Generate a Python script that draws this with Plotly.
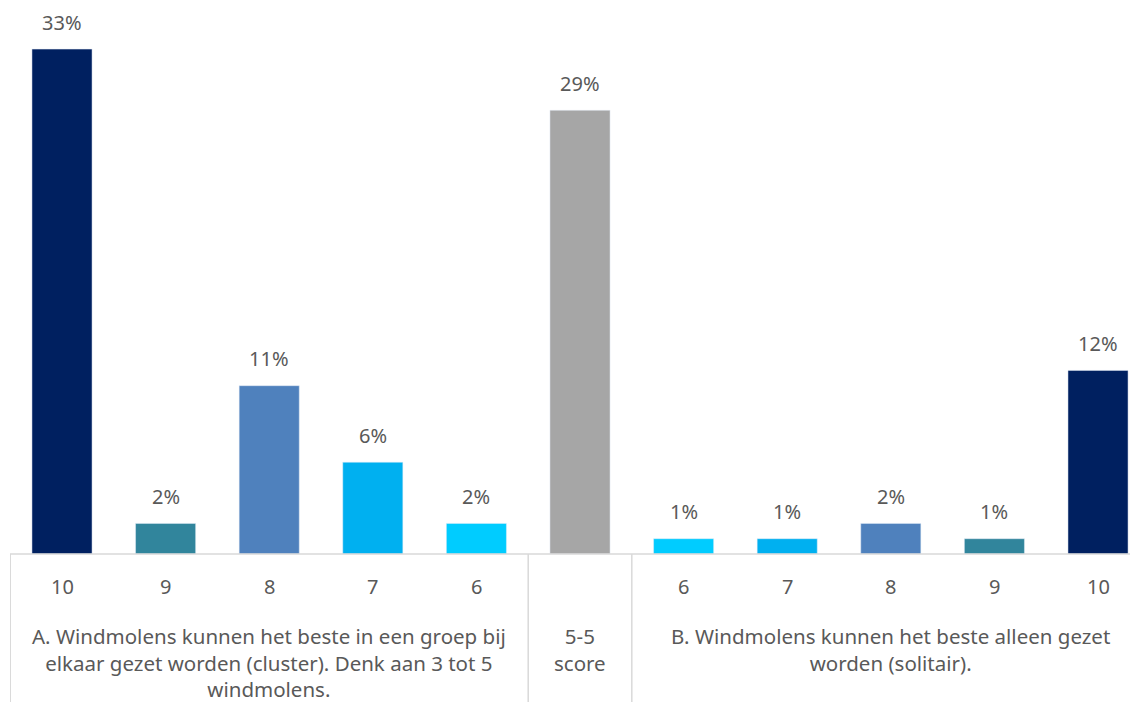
import plotly.graph_objects as go

scores = ["10", "9", "8", "7", "6", "", "6", "7", "8", "9", "10"]
values = [33, 2, 11, 6, 2, 29, 1, 1, 2, 1, 12]
colors = ["#002060", "#31859C", "#4F81BD", "#00B0F0", "#00CCFF", "#A6A6A6",
          "#00CCFF", "#00B0F0", "#4F81BD", "#31859C", "#002060"]
groups = [
    "A. Windmolens kunnen het beste in een groep bij<br>elkaar gezet worden (cluster). Denk aan 3 tot 5<br>windmolens.",
    "5-5<br>score",
    "B. Windmolens kunnen het beste alleen gezet<br>worden (solitair).",
]
group_members = [[0, 1, 2, 3, 4], [5], [6, 7, 8, 9, 10]]

FONT = "Noto Sans"
FS = 20
TXT = "#595959"
OFF = 8            # page body margin
W, H = 1138 - OFF, 702 - OFF
BASE = 554 - OFF   # baseline in figure pixels
x = list(range(len(values)))

fig = go.Figure(go.Bar(x=x, y=values, marker_color=colors, width=0.58,
                       hoverinfo="skip"))

def py(p):
    # screenshot pixel -> paper coordinate
    return (BASE - (p - OFF)) / BASE

for xi, v in zip(x, values):
    fig.add_annotation(x=xi, y=v, xref="x", yref="y", text=f"{v}%", showarrow=False,
                       yshift=27, yanchor="middle", font=dict(family=FONT, size=FS, color=TXT))

for xi, s in zip(x, scores):
    if s:
        fig.add_annotation(x=xi, y=py(586), xref="x", yref="paper", text=s, showarrow=False,
                           yanchor="middle", font=dict(family=FONT, size=FS, color=TXT))

for g, mem in zip(groups, group_members):
    cx = sum(mem) / len(mem)
    fig.add_annotation(x=cx, y=py(620), xref="x", yref="paper", text=g, showarrow=False,
                       yanchor="top", align="center",
                       font=dict(family=FONT, size=20.5, color=TXT))

# axis line and dividers
fig.add_shape(type="line", xref="paper", yref="paper", x0=0, x1=1, y0=0, y1=0,
              line=dict(color="#D9D9D9", width=1.5))
for b in [-0.5, 4.5, 5.5]:
    fig.add_shape(type="line", xref="x", yref="paper", x0=b, x1=b, y0=0, y1=py(H + 20),
                  line=dict(color="#D9D9D9", width=1.5))

fig.update_layout(
    width=W, height=H,
    margin=dict(l=10 - OFF, r=0, t=0, b=H - BASE),
    plot_bgcolor="white", paper_bgcolor="white",
    showlegend=False,
    xaxis=dict(range=[-0.502, 10.386], showticklabels=False, showgrid=False,
               zeroline=False, showline=False, fixedrange=True),
    yaxis=dict(range=[0, BASE / 15.3], visible=False, showgrid=False, zeroline=False),
)

fig.write_html("out.html")
